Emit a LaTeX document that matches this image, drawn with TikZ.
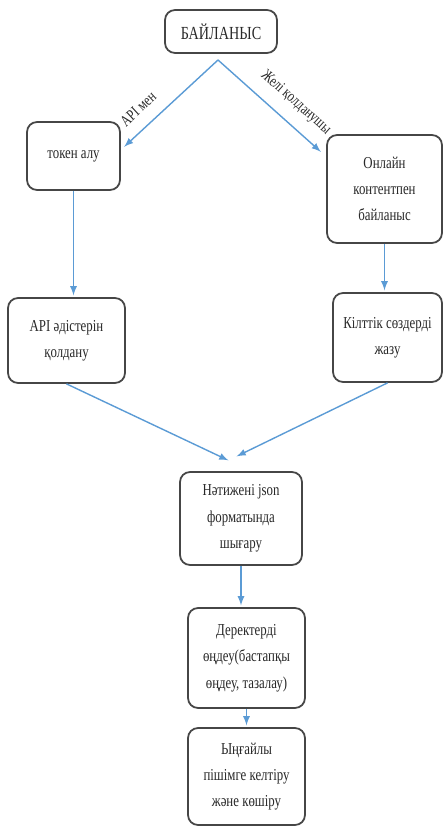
\documentclass[tikz,border=0pt]{standalone}
\usepackage{fontspec}
\setmainfont{Liberation Serif}[FakeStretch=0.77]
\usepackage{tikz}
\usetikzlibrary{arrows}
\usepackage{color}
\definecolor{Flow-blue}{RGB}{91,155,213}
\definecolor{Box-grey}{RGB}{70,70,70}
\definecolor{Text-grey}{RGB}{40,40,40}

\begin{document}
\begin{tikzpicture}[x=0.02cm, y=-0.02cm]
    \path[use as bounding box] (0, 0) rectangle (443, 827);

    \tikzset{ box/.style  ={draw=Box-grey, line width=1pt, rounded corners=0.2cm, align=center, inner sep=0pt,
                           text=Text-grey, font=\fontsize{9.5}{15}\selectfont} }
    \tikzset{ flow/.style ={->, >=latex, draw=Flow-blue, line width=0.8pt, shorten >=1pt} }
    \tikzset{ lbl/.style  ={sloped, above, inner sep=7pt, text=Text-grey, font=\fontsize{9}{10}\selectfont} }

    \node[box, minimum width=2.24cm, minimum height=0.86cm] (bail) at (221.0,  31.5) {\fontsize{10.5}{12}\selectfont БАЙЛАНЫС};
    \node[box, minimum width=1.86cm, minimum height=1.36cm] (tok)  at ( 73.5, 156.0) {токен алу};
    \node[box, minimum width=2.30cm, minimum height=2.16cm] (onl)  at (384.5, 189.0) {Онлайн\\контентпен\\байланыс};
    \node[box, minimum width=2.34cm, minimum height=1.70cm] (api)  at ( 66.5, 340.5) {API әдістерін\\қолдану};
    \node[box, minimum width=2.18cm, minimum height=1.78cm] (kil)  at (387.5, 337.5) {Кілттік сөздерді\\жазу};
    \node[box, minimum width=2.44cm, minimum height=1.86cm] (nat)  at (241.0, 518.5) {Нәтижені json\\форматында\\шығару};
    \node[box, minimum width=2.34cm, minimum height=2.00cm] (der)  at (246.5, 658.0) {Деректерді\\өңдеу(бастапқы\\өңдеу, тазалау)};
    \node[box, minimum width=2.34cm, minimum height=1.94cm] (yng)  at (246.5, 776.5) {Ыңғайлы\\пішімге келтіру\\және көшіру};

    \coordinate (split) at (218, 60);

    \draw[flow] (split) -- ([shift={(2,-8)}]tok.east)   node [lbl, pos=0.71] {API мен};
    \draw[flow] (split) -- ([shift={(-4,-36)}]onl.west) node [lbl, pos=0.62] {Желі қолданушы};
    \draw[flow] (tok.south) -- (tok.south |- api.north);
    \draw[flow] (onl.south) -- (onl.south |- kil.north);
    \draw[flow] (api.south) -- ([shift={(-11,-10)}]nat.north);
    \draw[flow] (kil.south) -- ([shift={(-6,-14)}]nat.north);
    \draw[flow] (nat.south) -- (nat.south |- der.north);
    \draw[flow] (der.south) -- (yng.north);

\end{tikzpicture}
\end{document}
